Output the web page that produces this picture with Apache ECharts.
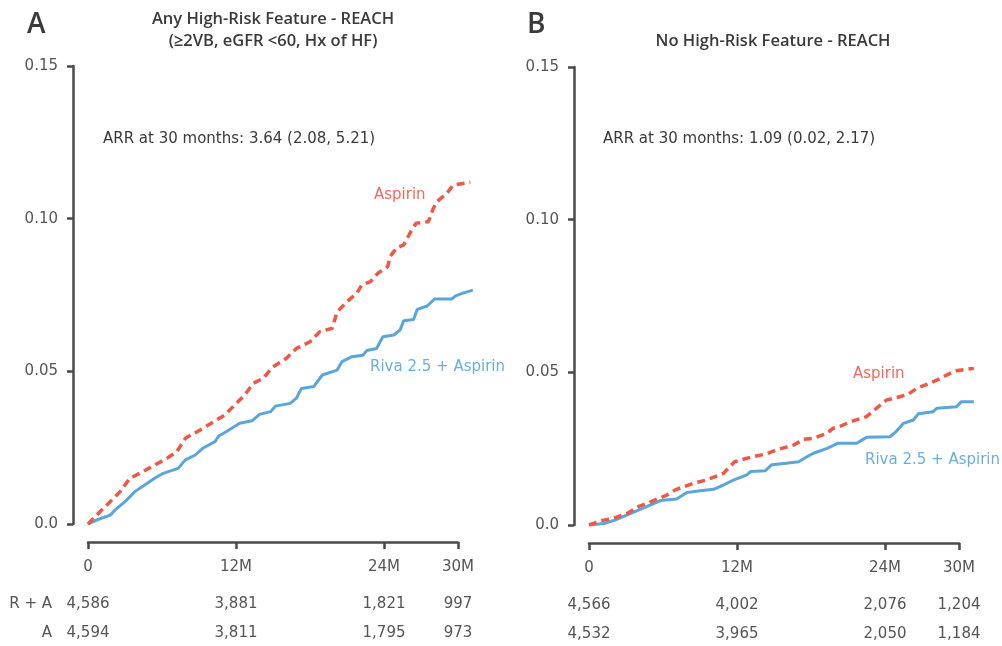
<!DOCTYPE html>
<html>
<head>
<meta charset="utf-8">
<script src="https://cdn.jsdelivr.net/npm/echarts@6/dist/echarts.min.js"></script>
<style>html,body{margin:0;padding:0;background:#fff}#c{width:1002px;height:646px}</style>
</head>
<body>
<div id="c"></div>
<script>
// ---- data (months, cumulative incidence) ----
const xTicks = [0, 12, 24, 30];
const yTicks = [0, 0.05, 0.10, 0.15];

const aAspMonths = [0,0.97,1.8,2.6,3.4,4.2,5.4,6.4,7.2,7.9,9.1,10.2,11.1,11.9,12.7,13.4,14.2,15.0,16.1,16.9,18.0,18.8,19.8,20.2,21.0,21.8,22.2,22.9,23.5,24.3,24.5,25.0,25.6,26.1,26.6,27.6,28.0,28.3,29.1,29.6,31.0];
const aAspValues = [0,0.0040,0.0073,0.0106,0.0150,0.0166,0.0193,0.0215,0.0237,0.0281,0.0308,0.0335,0.0357,0.0390,0.0422,0.0461,0.0477,0.0515,0.0543,0.0575,0.0597,0.0630,0.0641,0.0695,0.0728,0.0756,0.0783,0.0794,0.0821,0.0843,0.0876,0.0903,0.0914,0.0952,0.0985,0.0990,0.1034,0.1056,0.1083,0.1110,0.1119];

const aRivMonths = [0,0.7,1.8,2.2,3.0,3.8,4.6,5.4,6.1,7.3,7.9,8.7,9.3,10.3,10.6,11.2,12.3,13.3,13.9,14.8,15.2,16.4,16.9,17.3,18.3,19.0,20.2,20.6,21.4,22.3,22.6,23.4,23.9,24.8,25.3,25.6,26.4,26.7,27.5,28.1,29.5,29.8,30.4,31.2];
const aRivValues = [0,0.0013,0.0029,0.0046,0.0073,0.0106,0.0128,0.0150,0.0166,0.0182,0.0210,0.0226,0.0248,0.0270,0.0288,0.0302,0.0330,0.0338,0.0359,0.0368,0.0386,0.0395,0.0412,0.0444,0.0450,0.0488,0.0504,0.0532,0.0548,0.0553,0.0568,0.0575,0.0613,0.0619,0.0635,0.0666,0.0670,0.0703,0.0714,0.0737,0.0737,0.0747,0.0756,0.0766];

const bAspMonths = [0,1.2,2.0,3.1,4.0,5.0,6.3,7.1,8.5,9.5,10.9,11.8,13.1,14.4,15.2,16.6,17.4,18.2,19.3,19.8,20.4,21.2,22.5,23.3,24.1,25.2,25.9,26.6,27.6,28.5,29.0,29.7,31.2];
const bAspValues = [0,0.0016,0.0022,0.0038,0.0060,0.0076,0.0098,0.0117,0.0137,0.0147,0.0169,0.0207,0.0222,0.0233,0.0246,0.0262,0.0281,0.0284,0.0300,0.0317,0.0324,0.0338,0.0355,0.0382,0.0409,0.0420,0.0429,0.0448,0.0464,0.0480,0.0491,0.0505,0.0513];

const bRivMonths = [0,1.2,2.1,3.1,4.0,5.0,5.8,7.1,7.9,9.0,10.1,10.9,11.7,12.8,13.1,14.3,14.8,16.0,17.0,17.6,18.2,19.3,20.2,21.7,22.5,24.4,24.9,25.5,26.3,26.7,27.9,28.2,29.8,30.2,31.2];
const bRivValues = [0,0.0005,0.0016,0.0033,0.0049,0.0066,0.0080,0.0085,0.0106,0.0112,0.0117,0.0131,0.0147,0.0164,0.0175,0.0178,0.0197,0.0202,0.0207,0.0222,0.0235,0.0251,0.0268,0.0268,0.0287,0.0289,0.0306,0.0333,0.0344,0.0364,0.0371,0.0382,0.0387,0.0404,0.0404];

const riskRowLabels = ['R + A', 'A'];
const aRiskRA = [4586, 3881, 1821, 997];
const aRiskA  = [4594, 3811, 1795, 973];
const bRiskRA = [4566, 4002, 2076, 1204];
const bRiskA  = [4532, 3965, 2050, 1184];

const titleA = 'Any High-Risk Feature - REACH\n(\u22652VB, eGFR <60, Hx of HF)';
const titleB = 'No High-Risk Feature - REACH';
const arrA = 'ARR at 30 months: 3.64 (2.08, 5.21)';
const arrB = 'ARR at 30 months: 1.09 (0.02, 2.17)';
const nameAsp = 'Aspirin';
const nameRiv = 'Riva 2.5 + Aspirin';

// ---- styling ----
const FONT = '"DejaVu Sans", "Open Sans", sans-serif';
const TFONT = '"Open Sans", "Noto Sans", sans-serif';
const AX = '#4a4a4a';
const TXT = '#555';
const RED = '#ef5844';
const BLUE = '#5aa5dd';
const RED_T = '#f2685c';
const BLUE_T = '#6aaee2';

function zip(xs, ys) { return xs.map((x, i) => [x, ys[i]]); }
function fmtN(n) { return n.toLocaleString('en-US'); }

const AXIS_MAX = 30;   // visible time axis end (months)
const DATA_MAX = 32;   // data grid extent so curves may run past 30M
const PX_PER_MONTH = 370 / AXIS_MAX;
const panelLeft = [88, 589];
const panelTop = [66, 67];
const H = 458;

const grids = [];
const xAxes = [];
const yAxes = [];
const risks = [[aRiskRA, aRiskA], [bRiskRA, bRiskA]];

[0, 1].forEach(p => {
  grids.push({left: panelLeft[p], top: panelTop[p], width: PX_PER_MONTH * DATA_MAX, height: H,
              containLabel: false, outerBoundsMode: 'none'});
  grids.push({left: panelLeft[p], top: panelTop[p], width: PX_PER_MONTH * AXIS_MAX, height: H,
              containLabel: false, outerBoundsMode: 'none'});
  const dg = 2 * p, ag = 2 * p + 1;
  xAxes.push({type: 'value', gridIndex: dg, min: 0, max: DATA_MAX, show: false});
  xAxes.push({
    type: 'value', gridIndex: ag, position: 'bottom', min: 0, max: AXIS_MAX, interval: 12, offset: 18,
    axisLine: {show: true, onZero: false, lineStyle: {color: AX, width: 2.5}},
    axisTick: {show: true, length: 7, lineStyle: {color: AX, width: 2.5}},
    axisLabel: {color: TXT, fontSize: 15, fontFamily: FONT, margin: 18,
      formatter: v => v === 0 ? '0' : v + 'M'},
    splitLine: {show: false}
  });
  [0, 1].forEach(r => {
    const arr = risks[p][r];
    xAxes.push({
      type: 'value', gridIndex: ag, position: 'bottom', min: 0, max: AXIS_MAX, interval: 12, offset: 80 + r * 29,
      name: p === 0 ? riskRowLabels[r] : '', nameLocation: 'start', nameGap: 36,
      nameTextStyle: {color: TXT, fontSize: 15, fontFamily: FONT, align: 'right', verticalAlign: 'middle'},
      axisLine: {show: false, onZero: false}, axisTick: {show: false},
      axisLabel: {color: TXT, fontSize: 15, fontFamily: FONT, margin: 0, verticalAlign: 'middle',
        formatter: v => { const i = xTicks.indexOf(v); return i >= 0 ? fmtN(arr[i]) : ''; }},
      splitLine: {show: false}
    });
  });
  yAxes.push({
    type: 'value', gridIndex: dg, min: yTicks[0], max: yTicks[yTicks.length - 1], interval: 0.05, offset: 15,
    axisLine: {show: true, onZero: false, lineStyle: {color: AX, width: 2.5}},
    axisTick: {show: true, length: 6, lineStyle: {color: AX, width: 2.5}},
    axisLabel: {color: TXT, fontSize: 15, fontFamily: FONT, margin: 15,
      formatter: v => v === 0 ? '0.0' : v.toFixed(2)},
    splitLine: {show: false}
  });
  yAxes.push({type: 'value', gridIndex: ag, min: 0, max: 1, show: false});
});

function lineSeries(name, p, data, color, dashed) {
  return {
    type: 'line', name, xAxisIndex: 4 * p, yAxisIndex: 2 * p, data,
    showSymbol: false, silent: true, animation: false,
    lineStyle: {color, width: dashed ? 3.5 : 3, type: dashed ? [8, 5] : 'solid'}
  };
}

function txt(text, x, y, color, size, weight, align, lh, font) {
  return {type: 'text', x, y, silent: true, style: {
    text, fill: color, font: (weight || 'normal') + ' ' + size + 'px ' + (font || FONT),
    align: align || 'left', verticalAlign: 'middle', lineHeight: lh || size * 1.3
  }};
}

const option = {
  backgroundColor: '#fff',
  animation: false,
  grid: grids,
  xAxis: xAxes,
  yAxis: yAxes,
  series: [
    lineSeries(nameRiv, 0, zip(aRivMonths, aRivValues), BLUE, false),
    lineSeries(nameAsp, 0, zip(aAspMonths, aAspValues), RED, true),
    lineSeries(nameRiv, 1, zip(bRivMonths, bRivValues), BLUE, false),
    lineSeries(nameAsp, 1, zip(bAspMonths, bAspValues), RED, true)
  ],
  graphic: [
    txt('A', 27, 25, '#3a3a3a', 28, '600', 'left', null, TFONT),
    txt('B', 527, 25, '#3a3a3a', 28, '600', 'left', null, TFONT),
    txt(titleA, 273, 30, '#3a3a3a', 16.5, '600', 'center', 22, TFONT),
    txt(titleB, 773, 41, '#3a3a3a', 16.5, '600', 'center', null, TFONT),
    txt(arrA, 103, 139, '#3a3a3a', 15, 'normal', 'left'),
    txt(arrB, 603, 139, '#3a3a3a', 15, 'normal', 'left'),
    txt(nameAsp, 374, 195, RED_T, 15, 'normal', 'left'),
    txt(nameRiv, 370, 367, BLUE_T, 15, 'normal', 'left'),
    txt(nameAsp, 853, 374, RED_T, 15, 'normal', 'left'),
    txt(nameRiv, 865, 460, BLUE_T, 15, 'normal', 'left')
  ]
};

echarts.init(document.getElementById('c'), null, {renderer: 'canvas'}).setOption(option);
</script>
</body>
</html>
